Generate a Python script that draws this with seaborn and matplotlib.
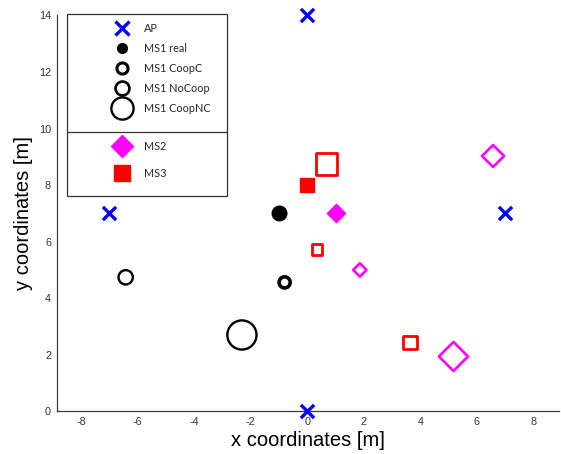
import matplotlib
matplotlib.use("Agg")
import matplotlib.pyplot as plt
from matplotlib.lines import Line2D
from matplotlib.patches import Rectangle
import seaborn as sns

# ---------------- data ----------------
ap_x = [0, -7, 7, 0]
ap_y = [14, 7, 7, 0]

ms1_real_x = [-1.0]
ms1_real_y = [7.0]
ms1_coopc_x = [-0.8]
ms1_coopc_y = [4.56]
ms1_nocoop_x = [-6.42]
ms1_nocoop_y = [4.74]
ms1_coopnc_x = [-2.31]
ms1_coopnc_y = [2.70]

ms2_real_x = [1.0]
ms2_real_y = [7.0]
ms2_est_x = [1.86, 6.57, 5.17]     # CoopC, NoCoop, CoopNC estimates
ms2_est_y = [5.0, 9.03, 1.94]

ms3_real_x = [0.0]
ms3_real_y = [8.0]
ms3_est_x = [0.35, 3.63, 0.67]
ms3_est_y = [5.72, 2.42, 8.75]

x_ticks = [-8, -6, -4, -2, 0, 2, 4, 6, 8]
y_ticks = [0, 2, 4, 6, 8, 10, 12, 14]
legend1_labels = ["AP", "MS1 real", "MS1 CoopC", "MS1 NoCoop", "MS1 CoopNC"]
legend2_labels = ["MS2", "MS3"]

# ---------------- style ----------------
BLUE = (0, 0, 1)
MAG = (1, 0, 1)
RED = (1, 0, 0)
BLK = (0, 0, 0)
AXC = "#3a3a3a"

sns.set_theme(style="white")
plt.rcParams["font.family"] = ["Liberation Sans", "DejaVu Sans"]

fig = plt.figure(figsize=(5.61, 4.54), dpi=100)
ax = fig.add_axes([0.101, 0.094, 0.8954, 0.8719])


def pts(x, y, marker, ms, face, edge, lw, z=3):
    sizes = [m ** 2 for m in ms] if isinstance(ms, list) else ms ** 2
    sns.scatterplot(x=x, y=y, marker=marker, s=sizes, facecolor=face,
                    edgecolor=edge, linewidth=lw, ax=ax, legend=False,
                    zorder=z, clip_on=False)


# AP
sns.scatterplot(x=ap_x, y=ap_y, marker="x", s=9.5 ** 2, color=BLUE,
                linewidth=2.4, ax=ax, legend=False, zorder=3, clip_on=False)
# MS1
pts(ms1_real_x, ms1_real_y, "o", 10.5, BLK, BLK, 1)
pts(ms1_coopc_x, ms1_coopc_y, "o", 8, "none", BLK, 2.6)
pts(ms1_nocoop_x, ms1_nocoop_y, "o", 10.3, "none", BLK, 1.7)
pts(ms1_coopnc_x, ms1_coopnc_y, "o", 21, "none", BLK, 1.7)
# MS2
pts(ms2_real_x, ms2_real_y, "D", 9.3, MAG, MAG, 1)
pts(ms2_est_x, ms2_est_y, "D", [6.8, 11.2, 14.8], "none", MAG, 1.9)
# MS3
pts(ms3_real_x, ms3_real_y, "s", 9.5, RED, RED, 1)
pts(ms3_est_x, ms3_est_y, "s", [7.5, 9.5, 15.3], "none", RED, 2.0)

# ---------------- axes ----------------
ax.set_xlim(-8.86, 8.9)
ax.set_ylim(0, 14)
ax.set_xticks(x_ticks)
ax.set_yticks(y_ticks)
ax.set_xticklabels([str(t) for t in x_ticks])
ax.set_yticklabels([str(t) for t in y_ticks])
for s in ["top", "right"]:
    ax.spines[s].set_visible(False)
for s in ["left", "bottom"]:
    ax.spines[s].set_color(AXC)
    ax.spines[s].set_linewidth(0.9)
ax.tick_params(direction="in", length=3, width=0.8, color=AXC,
               labelsize=7.8, labelcolor="#333333", pad=4)
ax.set_xlabel("x coordinates [m]", fontsize=14.5, color="black", labelpad=3)
ax.set_ylabel("y coordinates [m]", fontsize=14.5, color="black", labelpad=4)
ax.grid(False)

# ---------------- legend ----------------
h1 = [
    Line2D([], [], ls="none", marker="x", ms=9.5, mew=2.4, color=BLUE),
    Line2D([], [], ls="none", marker="o", ms=7, mfc=BLK, mec=BLK),
    Line2D([], [], ls="none", marker="o", ms=8, mfc="none", mec=BLK, mew=2.2),
    Line2D([], [], ls="none", marker="o", ms=10, mfc="none", mec=BLK, mew=1.9),
    Line2D([], [], ls="none", marker="o", ms=16, mfc="none", mec=BLK, mew=1.7),
]
h2 = [
    Line2D([], [], ls="none", marker="D", ms=11, mfc=MAG, mec=MAG),
    Line2D([], [], ls="none", marker="s", ms=11, mfc=RED, mec=RED),
]
W, H = 561.0, 454.0
leg_font = {"family": ["Lato", "DejaVu Sans"], "size": 7.8}
leg1 = fig.legend(h1, legend1_labels, loc="center left",
                  bbox_to_anchor=(111.3 / W, 1 - 68.5 / H), frameon=False,
                  prop=leg_font, borderpad=0, handlelength=2.0,
                  handletextpad=1.0, labelspacing=0.84, borderaxespad=0)
leg2 = fig.legend(h2, legend2_labels, loc="center left",
                  bbox_to_anchor=(111.3 / W, 1 - 159.7 / H), frameon=False,
                  prop=leg_font, borderpad=0, handlelength=2.0,
                  handletextpad=1.0, labelspacing=1.45, borderaxespad=0)
fig.patches.append(Rectangle((67.3 / W, 1 - 195.7 / H), 160 / W, 181.7 / H,
                             transform=fig.transFigure, facecolor="white",
                             edgecolor="#333333", linewidth=0.9, zorder=4))
fig.lines.append(Line2D([67.3 / W, 227.3 / W], [1 - 131.7 / H, 1 - 131.7 / H],
                        transform=fig.transFigure, color="#333333",
                        linewidth=0.9, zorder=5))
leg1.set_zorder(6)
leg2.set_zorder(6)

fig.savefig("out.png", dpi=100)
